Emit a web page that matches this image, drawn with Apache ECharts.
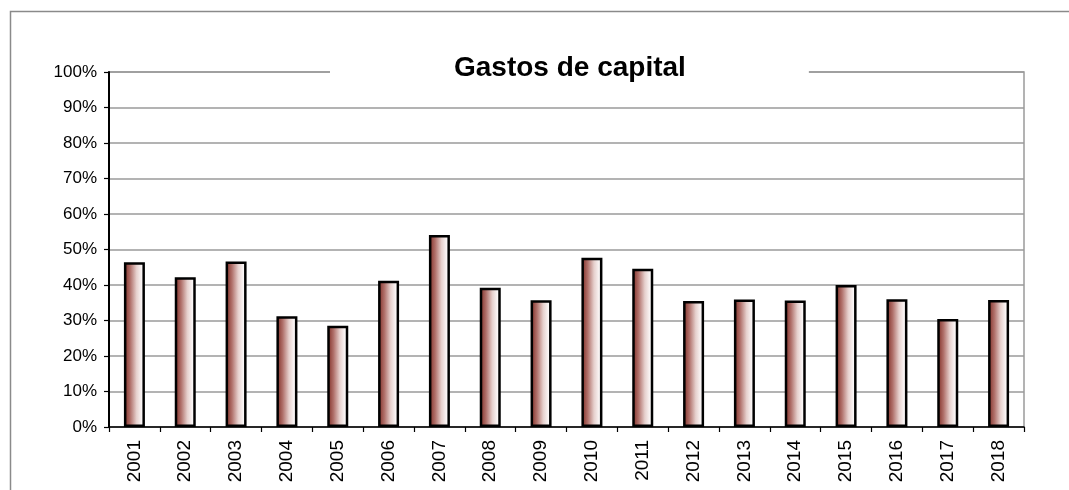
<!DOCTYPE html>
<html>
<head>
<meta charset="utf-8">
<script src="https://cdn.jsdelivr.net/npm/echarts@6/dist/echarts.min.js"></script>
<style>
html,body{margin:0;padding:0;background:#fff;}
#chart{width:1069px;height:490px;}
</style>
</head>
<body>
<div id="chart"></div>
<script>
const titleText = 'Gastos de capital';
const years = ['2001','2002','2003','2004','2005','2006','2007','2008','2009','2010','2011','2012','2013','2014','2015','2016','2017','2018'];
const shares = [46.4, 42.2, 46.6, 31.2, 28.5, 41.2, 54.1, 39.2, 35.7, 47.7, 44.6, 35.5, 35.9, 35.6, 40.0, 36.0, 30.4, 35.8];

const chart = echarts.init(document.getElementById('chart'));
const font = '"Liberation Sans", Arial, sans-serif';
chart.setOption({
  animation: false,
  backgroundColor: '#fff',
  graphic: [{
    type: 'rect', left: 8, top: 9, z: -10, silent: true,
    shape: { width: 1200, height: 600 },
    style: { fill: 'none', stroke: '#8a8a8a', lineWidth: 1.5 }
  }],
  title: {
    text: titleText,
    left: 330,
    top: 52,
    padding: [2, 123, 2, 124],
    backgroundColor: '#fff',
    textStyle: { fontFamily: font, fontSize: 28, fontWeight: 'bold', color: '#000' }
  },
  grid: {
    left: 109, right: 45, top: 72, bottom: 63,
    show: true, borderColor: '#9a9a9a', borderWidth: 1.5, backgroundColor: 'transparent'
  },
  xAxis: {
    type: 'category',
    data: years,
    boundaryGap: true,
    axisLine: { lineStyle: { color: '#000', width: 1.5 } },
    axisTick: { show: true, alignWithLabel: false, length: 5, lineStyle: { color: '#000', width: 1.2 } },
    axisLabel: { rotate: 90, fontFamily: font, fontSize: 19, color: '#000', margin: 13, interval: 0 },
    splitLine: { show: false }
  },
  yAxis: {
    type: 'value',
    min: 0, max: 100, interval: 10,
    axisLine: { show: true, lineStyle: { color: '#000', width: 2 } },
    axisTick: { show: true, length: 5, lineStyle: { color: '#000', width: 1.2 } },
    axisLabel: { formatter: '{value}%', fontFamily: font, fontSize: 17, color: '#000', margin: 12 },
    splitLine: { show: true, lineStyle: { color: '#9a9a9a', width: 1.5 } }
  },
  series: [{
    type: 'bar',
    data: shares,
    barWidth: 21,
    itemStyle: {
      borderColor: '#000',
      borderWidth: 2.5,
      color: new echarts.graphic.LinearGradient(0, 0, 1, 0, [
        { offset: 0, color: '#7c2820' },
        { offset: 0.3, color: '#b0706a' },
        { offset: 0.6, color: '#e6d0cd' },
        { offset: 0.85, color: '#fbf7f7' },
        { offset: 1, color: '#ffffff' }
      ])
    }
  }]
});
</script>
</body>
</html>
